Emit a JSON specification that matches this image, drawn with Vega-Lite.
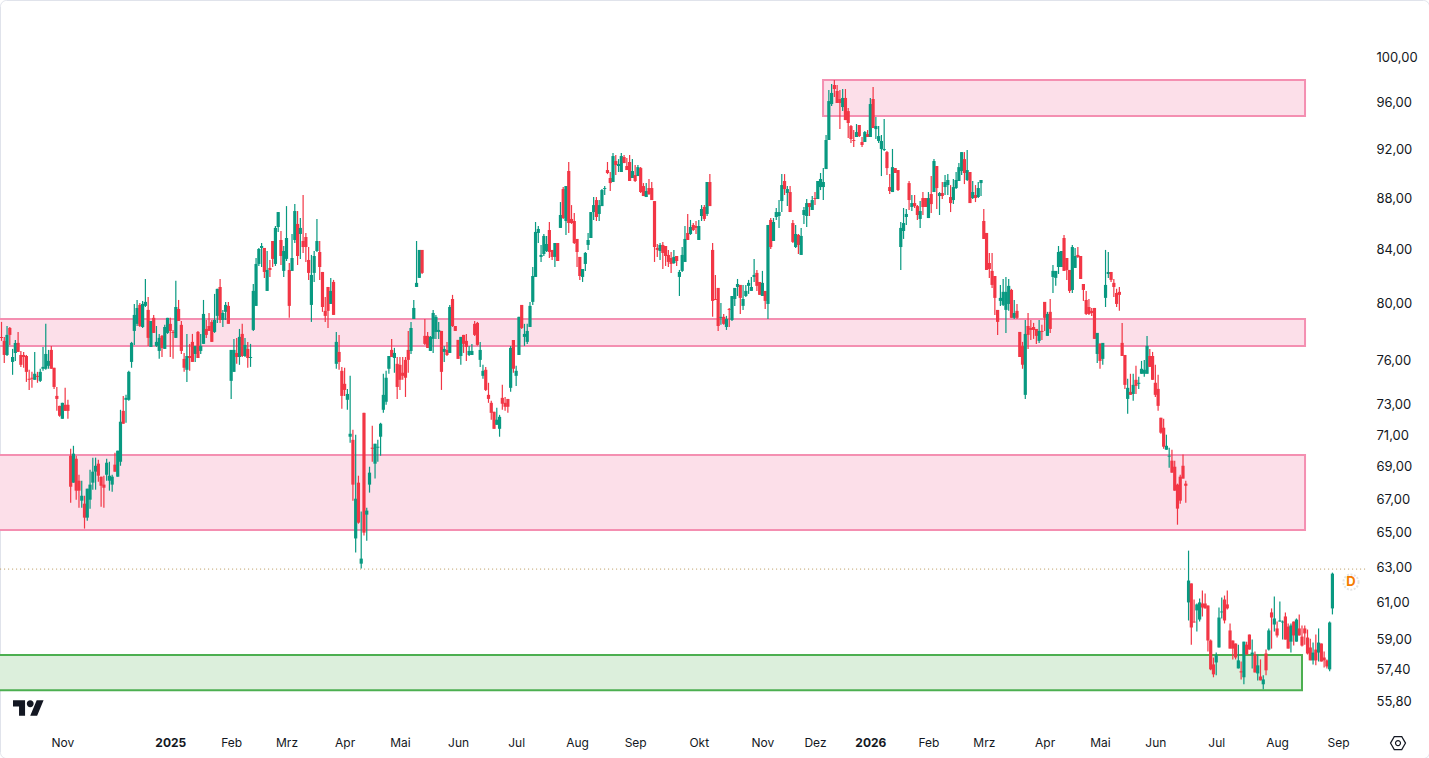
{
  "$schema": "https://vega.github.io/schema/vega-lite/v6.json",
  "width": 1429,
  "height": 758,
  "padding": 0,
  "autosize": {"type": "none"},
  "background": "white",
  "view": {"stroke": "#e0e3eb", "cornerRadius": 6, "fill": "white"},
  "resolve": {"axis": {"x": "independent", "y": "independent"}},
  "datasets": {
    "zones": [
      {"start": 296.9, "end": 471.1, "top": 97.94, "bottom": 94.8, "kind": "supply"},
      {"start": -3, "end": 471.1, "top": 78.87, "bottom": 76.97, "kind": "supply"},
      {"start": -3, "end": 471.1, "top": 69.73, "bottom": 65.15, "kind": "supply"},
      {"start": -3, "end": 470, "top": 58.18, "bottom": 56.36, "kind": "demand"}
    ],
    "lastprice": [{"start": -0.5, "end": 492.8, "price": 62.89}],
    "marker": [{"bar": 487.7, "price": 62.15, "label": "D"}],
    "logo": [{"bar": 9.76, "price": 55.45}],
    "gear": [{"bar": 504.7, "price": 53.72}],
    "candles": [
{"bar":0,"o":77.61,"h":78.67,"l":77.33,"c":77.54},
{"bar":1,"o":77.33,"h":77.61,"l":75.8,"c":76.35},
{"bar":2,"o":76.35,"h":78.38,"l":76.28,"c":77.75},
{"bar":3,"o":78.24,"h":78.31,"l":77.05,"c":77.75},
{"bar":4,"o":75.87,"h":76.77,"l":74.99,"c":76.21},
{"bar":5,"o":76.49,"h":77.4,"l":75.94,"c":77.19},
{"bar":6,"o":77.19,"h":77.96,"l":76.56,"c":76.56},
{"bar":7,"o":76.35,"h":76.63,"l":75.53,"c":75.67},
{"bar":8,"o":76.35,"h":76.56,"l":75.47,"c":76.21},
{"bar":9,"o":76.28,"h":76.35,"l":74.51,"c":75.19},
{"bar":10,"o":74.72,"h":75.33,"l":73.97,"c":74.65},
{"bar":11,"o":74.79,"h":75.19,"l":74.11,"c":74.72},
{"bar":12,"o":74.65,"h":76.56,"l":74.65,"c":75.06},
{"bar":13,"o":74.92,"h":75.19,"l":74.45,"c":74.85},
{"bar":14,"o":74.58,"h":75.4,"l":74.51,"c":75.19},
{"bar":15,"o":75.4,"h":76.91,"l":75.26,"c":75.53},
{"bar":16,"o":75.4,"h":78.53,"l":75.33,"c":76.42},
{"bar":17,"o":75.6,"h":76.7,"l":75.4,"c":75.94},
{"bar":18,"o":76.7,"h":76.98,"l":75.4,"c":75.4},
{"bar":19,"o":75.47,"h":75.47,"l":74.04,"c":74.17},
{"bar":20,"o":73.57,"h":74.17,"l":72.58,"c":73.37},
{"bar":21,"o":72.91,"h":72.91,"l":72.19,"c":72.26},
{"bar":22,"o":72.06,"h":73.11,"l":72.06,"c":73.11},
{"bar":23,"o":72.98,"h":74.11,"l":72.58,"c":72.58},
{"bar":24,"o":72.98,"h":73.31,"l":72.06,"c":72.58},
{"bar":25,"o":69.69,"h":70.13,"l":66.79,"c":67.76},
{"bar":26,"o":68.01,"h":70.32,"l":68.01,"c":69.82},
{"bar":27,"o":69.5,"h":69.69,"l":66.97,"c":67.52},
{"bar":28,"o":68.13,"h":68.5,"l":66.49,"c":67.52},
{"bar":29,"o":66.91,"h":68.13,"l":66.49,"c":67.21},
{"bar":30,"o":66.73,"h":67.21,"l":65.24,"c":65.89},
{"bar":31,"o":65.89,"h":67.64,"l":65.71,"c":67.64},
{"bar":32,"o":66.97,"h":68.81,"l":66.43,"c":67.89},
{"bar":33,"o":68.01,"h":69.57,"l":67.58,"c":68.69},
{"bar":34,"o":68.69,"h":69.57,"l":67.58,"c":69.06},
{"bar":35,"o":69.19,"h":69.44,"l":68.07,"c":68.44},
{"bar":36,"o":68.38,"h":68.38,"l":66.55,"c":67.82},
{"bar":37,"o":67.89,"h":68.44,"l":66.49,"c":67.7},
{"bar":38,"o":68.5,"h":69.5,"l":68.13,"c":69.25},
{"bar":39,"o":68.13,"h":69.31,"l":67.52,"c":68.44},
{"bar":40,"o":67.89,"h":68.5,"l":67.46,"c":68.38},
{"bar":41,"o":69.13,"h":69.88,"l":68.69,"c":68.69},
{"bar":42,"o":68.38,"h":70.01,"l":68.38,"c":70.01},
{"bar":43,"o":69.31,"h":72.65,"l":69.06,"c":71.87},
{"bar":44,"o":72.58,"h":73.57,"l":71.74,"c":71.74},
{"bar":45,"o":73.31,"h":73.64,"l":71.8,"c":73.44},
{"bar":46,"o":73.31,"h":75.26,"l":73.24,"c":75.19},
{"bar":47,"o":75.87,"h":77.26,"l":75.47,"c":77.19},
{"bar":48,"o":78.03,"h":79.96,"l":77.05,"c":79.17},
{"bar":49,"o":78.53,"h":80.25,"l":78.38,"c":79.67},
{"bar":50,"o":79.89,"h":80.03,"l":78.31,"c":78.38},
{"bar":51,"o":78.31,"h":80.18,"l":78.24,"c":79.96},
{"bar":52,"o":79.82,"h":81.79,"l":79.74,"c":80.11},
{"bar":53,"o":79.53,"h":80.47,"l":76.98,"c":77.54},
{"bar":54,"o":76.91,"h":78.74,"l":76.91,"c":78.74},
{"bar":55,"o":78.96,"h":79.17,"l":77.89,"c":77.89},
{"bar":56,"o":76.98,"h":78.38,"l":76.91,"c":77.26},
{"bar":57,"o":76.63,"h":77.82,"l":76.08,"c":77.54},
{"bar":58,"o":77.68,"h":77.75,"l":76.21,"c":76.84},
{"bar":59,"o":76.77,"h":78.46,"l":76.77,"c":78.31},
{"bar":60,"o":77.89,"h":78.96,"l":77.82,"c":78.96},
{"bar":61,"o":78.53,"h":78.96,"l":76.21,"c":78.03},
{"bar":62,"o":77.96,"h":78.1,"l":76.08,"c":77.89},
{"bar":63,"o":77.54,"h":81.65,"l":77.54,"c":79.74},
{"bar":64,"o":79.6,"h":80.25,"l":78.74,"c":78.74},
{"bar":65,"o":78.46,"h":78.74,"l":76.42,"c":76.63},
{"bar":66,"o":76.08,"h":76.49,"l":75.19,"c":75.47},
{"bar":67,"o":75.33,"h":77.82,"l":74.51,"c":76.28},
{"bar":68,"o":76.28,"h":77.12,"l":75.26,"c":76.14},
{"bar":69,"o":77.26,"h":77.82,"l":75.87,"c":75.87},
{"bar":70,"o":76.42,"h":76.98,"l":75.87,"c":76.98},
{"bar":71,"o":77.96,"h":78.03,"l":76.14,"c":76.14},
{"bar":72,"o":76.63,"h":77.82,"l":76.42,"c":76.98},
{"bar":73,"o":77.12,"h":80.25,"l":77.12,"c":79.24},
{"bar":74,"o":78.17,"h":78.81,"l":77.54,"c":77.75},
{"bar":75,"o":78.38,"h":79.31,"l":78.03,"c":78.03},
{"bar":76,"o":78.67,"h":78.81,"l":77.26,"c":77.26},
{"bar":77,"o":77.96,"h":80.69,"l":77.89,"c":78.81},
{"bar":78,"o":79.1,"h":81.06,"l":78.6,"c":81.06},
{"bar":79,"o":81.2,"h":81.79,"l":78.6,"c":78.81},
{"bar":80,"o":78.81,"h":79.53,"l":78.31,"c":79.31},
{"bar":81,"o":79.39,"h":80.11,"l":78.81,"c":79.89},
{"bar":82,"o":79.82,"h":80.11,"l":78.53,"c":78.53},
{"bar":83,"o":74.58,"h":76.7,"l":73.37,"c":76.7},
{"bar":84,"o":75.19,"h":77.47,"l":75.19,"c":76.7},
{"bar":85,"o":76.49,"h":77.54,"l":75.74,"c":76.21},
{"bar":86,"o":76.21,"h":78.17,"l":75.67,"c":77.61},
{"bar":87,"o":77.82,"h":78.53,"l":76.21,"c":76.28},
{"bar":88,"o":76.28,"h":77.54,"l":76.21,"c":77.05},
{"bar":89,"o":76.77,"h":77.26,"l":75.47,"c":76.14},
{"bar":90,"o":76.14,"h":77.12,"l":75.53,"c":76.21},
{"bar":91,"o":78.1,"h":81.42,"l":78.03,"c":80.91},
{"bar":92,"o":79.82,"h":83.36,"l":79.82,"c":82.91},
{"bar":93,"o":82.91,"h":84.12,"l":82.76,"c":84.04},
{"bar":94,"o":84.12,"h":84.5,"l":82.68,"c":84.27},
{"bar":95,"o":84.12,"h":84.12,"l":81.87,"c":82.31},
{"bar":96,"o":80.91,"h":83.89,"l":80.91,"c":82.46},
{"bar":97,"o":82.61,"h":83.21,"l":81.94,"c":82.46},
{"bar":98,"o":84.65,"h":84.65,"l":82.68,"c":83.29},
{"bar":99,"o":82.91,"h":85.81,"l":82.76,"c":85.66},
{"bar":100,"o":85.73,"h":86.9,"l":85.35,"c":86.9},
{"bar":101,"o":84.73,"h":85.42,"l":82.83,"c":83.51},
{"bar":102,"o":82.39,"h":84.27,"l":81.94,"c":83.89},
{"bar":103,"o":83.29,"h":87.37,"l":83.13,"c":84.88},
{"bar":104,"o":82.46,"h":82.98,"l":78.96,"c":79.82},
{"bar":105,"o":82.39,"h":85.19,"l":82.39,"c":83.36},
{"bar":106,"o":84.73,"h":87.53,"l":84.5,"c":86.98},
{"bar":107,"o":85.97,"h":86.98,"l":82.83,"c":83.51},
{"bar":108,"o":85.19,"h":86.43,"l":83.29,"c":85.66},
{"bar":109,"o":84.65,"h":88.25,"l":83.74,"c":84.19},
{"bar":110,"o":84.96,"h":85.27,"l":83.06,"c":84.19},
{"bar":111,"o":83.21,"h":84.19,"l":81.72,"c":82.24},
{"bar":112,"o":79.89,"h":83.59,"l":78.67,"c":82.09},
{"bar":113,"o":82.24,"h":83.89,"l":81.57,"c":83.51},
{"bar":114,"o":83.89,"h":86.36,"l":83.81,"c":84.65},
{"bar":115,"o":83.81,"h":84.65,"l":81.72,"c":82.68},
{"bar":116,"o":82.31,"h":82.31,"l":79.39,"c":79.74},
{"bar":117,"o":79.46,"h":80.47,"l":78.67,"c":79.1},
{"bar":118,"o":81.2,"h":81.2,"l":78.24,"c":79.46},
{"bar":119,"o":79.96,"h":81.87,"l":79.96,"c":80.91},
{"bar":120,"o":81.57,"h":81.72,"l":79.17,"c":79.17},
{"bar":121,"o":75.74,"h":77.96,"l":75.4,"c":77.26},
{"bar":122,"o":76.56,"h":77.75,"l":75.33,"c":75.87},
{"bar":123,"o":75.26,"h":75.53,"l":72.72,"c":73.57},
{"bar":124,"o":74.38,"h":75.47,"l":73.57,"c":73.97},
{"bar":125,"o":73.31,"h":74.04,"l":72.65,"c":73.7},
{"bar":126,"o":70.9,"h":74.92,"l":70.51,"c":71.09},
{"bar":127,"o":70.7,"h":71.35,"l":66.91,"c":67.89},
{"bar":128,"o":64.66,"h":71.03,"l":63.84,"c":67.03},
{"bar":129,"o":68.01,"h":68.44,"l":65.53,"c":65.59},
{"bar":130,"o":63.2,"h":66.25,"l":62.92,"c":63.49},
{"bar":131,"o":72.45,"h":72.45,"l":64.83,"c":65},
{"bar":132,"o":66.07,"h":66.49,"l":64.53,"c":66.31},
{"bar":133,"o":67.89,"h":69.0,"l":67.4,"c":68.63},
{"bar":134,"o":70.2,"h":71.61,"l":69.31,"c":70.13},
{"bar":135,"o":69.19,"h":70.45,"l":68.26,"c":70.45},
{"bar":136,"o":70.2,"h":70.7,"l":69.31,"c":70.26},
{"bar":137,"o":70.9,"h":71.8,"l":69.69,"c":71.74},
{"bar":138,"o":72.65,"h":75.06,"l":72.45,"c":73.64},
{"bar":139,"o":73.18,"h":75.26,"l":72.98,"c":74.79},
{"bar":140,"o":75.4,"h":76.28,"l":75.06,"c":76.28},
{"bar":141,"o":76.7,"h":77.47,"l":76.21,"c":76.21},
{"bar":142,"o":76.14,"h":76.84,"l":75.13,"c":76.49},
{"bar":143,"o":75.74,"h":76.21,"l":73.37,"c":74.17},
{"bar":144,"o":75.67,"h":76.21,"l":73.97,"c":74.65},
{"bar":145,"o":75.13,"h":76.21,"l":74.65,"c":74.92},
{"bar":146,"o":76.01,"h":76.21,"l":73.5,"c":74.79},
{"bar":147,"o":76.7,"h":78.03,"l":75.13,"c":76.01},
{"bar":148,"o":76.63,"h":78.67,"l":76.42,"c":78.24},
{"bar":149,"o":78.88,"h":80.25,"l":78.88,"c":79.67},
{"bar":150,"o":81.2,"h":84.65,"l":81.2,"c":81.5},
{"bar":151,"o":81.87,"h":83.97,"l":81.87,"c":83.97},
{"bar":152,"o":83.97,"h":83.97,"l":82.16,"c":82.24},
{"bar":153,"o":77.68,"h":78.88,"l":77.05,"c":77.12},
{"bar":154,"o":77.68,"h":77.96,"l":76.84,"c":76.84},
{"bar":155,"o":76.63,"h":77.68,"l":76.63,"c":77.61},
{"bar":156,"o":77.47,"h":79.53,"l":76.49,"c":79.31},
{"bar":157,"o":77.96,"h":79.17,"l":77.47,"c":79.03},
{"bar":158,"o":77.96,"h":78.67,"l":77.47,"c":78.1},
{"bar":159,"o":78.03,"h":78.03,"l":73.97,"c":75.19},
{"bar":160,"o":76.56,"h":76.98,"l":75.87,"c":76.77},
{"bar":161,"o":76.7,"h":77.26,"l":76.28,"c":76.35},
{"bar":162,"o":76.49,"h":79.89,"l":76.49,"c":79.74},
{"bar":163,"o":80.32,"h":80.62,"l":78.31,"c":78.38},
{"bar":164,"o":78.38,"h":78.38,"l":78.03,"c":78.03},
{"bar":165,"o":77.4,"h":77.4,"l":76.08,"c":76.08},
{"bar":166,"o":76.28,"h":77.61,"l":75.67,"c":77.61},
{"bar":167,"o":77.75,"h":77.75,"l":76.49,"c":77.12},
{"bar":168,"o":77.33,"h":77.82,"l":75.94,"c":76.91},
{"bar":169,"o":76.35,"h":76.98,"l":76.28,"c":76.63},
{"bar":170,"o":76.35,"h":77.12,"l":76.35,"c":76.63},
{"bar":171,"o":78.53,"h":78.74,"l":77.68,"c":77.75},
{"bar":172,"o":78.6,"h":78.67,"l":77.0,"c":77.05},
{"bar":173,"o":76.01,"h":77.26,"l":75.53,"c":76.7},
{"bar":174,"o":74.92,"h":75.67,"l":74.72,"c":75.26},
{"bar":175,"o":75.33,"h":75.53,"l":73.9,"c":73.97},
{"bar":176,"o":73.64,"h":74.45,"l":73.11,"c":73.37},
{"bar":177,"o":73.11,"h":73.24,"l":72.0,"c":72.45},
{"bar":178,"o":72.52,"h":72.52,"l":71.41,"c":71.41},
{"bar":179,"o":71.67,"h":72.78,"l":71.67,"c":72.0},
{"bar":180,"o":71.41,"h":72.32,"l":70.9,"c":72.19},
{"bar":181,"o":73.44,"h":74.31,"l":72.65,"c":73.05},
{"bar":182,"o":73.11,"h":73.5,"l":72.58,"c":72.85},
{"bar":183,"o":73.37,"h":73.37,"l":72.45,"c":72.85},
{"bar":184,"o":74.11,"h":76.98,"l":73.84,"c":76.84},
{"bar":185,"o":77.4,"h":77.4,"l":75.13,"c":75.4},
{"bar":186,"o":74.92,"h":75.6,"l":74.24,"c":75.26},
{"bar":187,"o":76.35,"h":79.03,"l":76.35,"c":79.03},
{"bar":188,"o":79.89,"h":79.89,"l":78.17,"c":78.24},
{"bar":189,"o":77.61,"h":78.53,"l":76.98,"c":77.82},
{"bar":190,"o":77.26,"h":78.53,"l":77.12,"c":78.03},
{"bar":191,"o":78.31,"h":80.11,"l":78.31,"c":79.82},
{"bar":192,"o":80.11,"h":82.68,"l":79.89,"c":82.01},
{"bar":193,"o":81.94,"h":86.12,"l":81.94,"c":85.35},
{"bar":194,"o":85.27,"h":85.81,"l":84.5,"c":85.58},
{"bar":195,"o":83.44,"h":84.35,"l":83.06,"c":83.59},
{"bar":196,"o":83.66,"h":85.19,"l":83.51,"c":85.04},
{"bar":197,"o":83.89,"h":85.04,"l":83.81,"c":84.42},
{"bar":198,"o":85.5,"h":86.12,"l":83.36,"c":83.81},
{"bar":199,"o":83.97,"h":83.97,"l":83.21,"c":83.44},
{"bar":200,"o":83.44,"h":84.5,"l":82.68,"c":84.5},
{"bar":201,"o":84.5,"h":84.5,"l":83.13,"c":83.13},
{"bar":202,"o":85.66,"h":87.69,"l":85.66,"c":86.67},
{"bar":203,"o":88.73,"h":88.89,"l":86.36,"c":86.43},
{"bar":204,"o":86.2,"h":88.97,"l":85.12,"c":88.97},
{"bar":205,"o":90.19,"h":90.93,"l":85.27,"c":86.04},
{"bar":206,"o":86.36,"h":87.45,"l":85.97,"c":86.04},
{"bar":207,"o":86.2,"h":86.82,"l":84.42,"c":84.5},
{"bar":208,"o":84.81,"h":84.81,"l":82.68,"c":83.81},
{"bar":209,"o":83.44,"h":83.44,"l":81.72,"c":82.01},
{"bar":210,"o":81.94,"h":82.53,"l":81.57,"c":82.53},
{"bar":211,"o":82.91,"h":83.81,"l":82.39,"c":83.74},
{"bar":212,"o":84.35,"h":85.27,"l":83.97,"c":84.73},
{"bar":213,"o":84.88,"h":86.9,"l":84.88,"c":86.9},
{"bar":214,"o":86.9,"h":88.09,"l":86.28,"c":87.45},
{"bar":215,"o":87.85,"h":88.09,"l":86.2,"c":86.51},
{"bar":216,"o":86.75,"h":87.85,"l":86.2,"c":87.45},
{"bar":217,"o":87.37,"h":88.73,"l":87.37,"c":88.65},
{"bar":218,"o":88.73,"h":88.97,"l":88.25,"c":88.81},
{"bar":219,"o":90.27,"h":90.93,"l":89.94,"c":90.03},
{"bar":220,"o":89.62,"h":90.11,"l":88.57,"c":89.21},
{"bar":221,"o":89.3,"h":91.67,"l":89.3,"c":91.42},
{"bar":222,"o":91.01,"h":91.5,"l":89.86,"c":90.68},
{"bar":223,"o":90.6,"h":91.17,"l":90.11,"c":90.76},
{"bar":224,"o":90.11,"h":91.67,"l":90.11,"c":91.42},
{"bar":225,"o":91.34,"h":91.5,"l":90.84,"c":90.84},
{"bar":226,"o":90.6,"h":91.26,"l":90.27,"c":90.27},
{"bar":227,"o":90.93,"h":91.5,"l":89.38,"c":89.38},
{"bar":228,"o":89.62,"h":91.17,"l":89.62,"c":90.19},
{"bar":229,"o":89.86,"h":90.68,"l":89.3,"c":89.38},
{"bar":230,"o":89.78,"h":90.68,"l":89.78,"c":90.51},
{"bar":231,"o":90.43,"h":90.51,"l":88.41,"c":88.49},
{"bar":232,"o":88.97,"h":89.21,"l":88.17,"c":88.17},
{"bar":233,"o":88.09,"h":89.21,"l":88.09,"c":88.57},
{"bar":234,"o":88.81,"h":89.54,"l":88.25,"c":88.33},
{"bar":235,"o":88.81,"h":89.3,"l":87.85,"c":87.85},
{"bar":236,"o":87.77,"h":87.77,"l":83.06,"c":84.19},
{"bar":237,"o":84.12,"h":84.42,"l":83.44,"c":83.97},
{"bar":238,"o":83.89,"h":84.5,"l":83.21,"c":84.35},
{"bar":239,"o":84.35,"h":84.58,"l":82.53,"c":83.74},
{"bar":240,"o":84.27,"h":84.27,"l":82.76,"c":83.51},
{"bar":241,"o":83.59,"h":83.97,"l":82.68,"c":83.06},
{"bar":242,"o":83.36,"h":83.81,"l":82.24,"c":82.91},
{"bar":243,"o":82.98,"h":83.97,"l":82.91,"c":83.44},
{"bar":244,"o":83.51,"h":83.51,"l":82.76,"c":83.13},
{"bar":245,"o":81.94,"h":82.46,"l":80.54,"c":82.31},
{"bar":246,"o":82.39,"h":84.19,"l":82.31,"c":83.59},
{"bar":247,"o":83.06,"h":85.81,"l":83.06,"c":84.81},
{"bar":248,"o":85.27,"h":86.75,"l":84.73,"c":84.73},
{"bar":249,"o":85.19,"h":86.28,"l":85.12,"c":85.73},
{"bar":250,"o":85.89,"h":86.04,"l":85.42,"c":85.5},
{"bar":251,"o":85.81,"h":86.2,"l":85.19,"c":85.66},
{"bar":252,"o":84.73,"h":86.28,"l":84.73,"c":85.81},
{"bar":253,"o":86.59,"h":87.45,"l":86.2,"c":87.14},
{"bar":254,"o":87.3,"h":87.45,"l":86.2,"c":86.36},
{"bar":255,"o":86.75,"h":89.3,"l":86.59,"c":89.3},
{"bar":256,"o":89.3,"h":89.94,"l":87.37,"c":87.37},
{"bar":257,"o":83.97,"h":84.5,"l":79.03,"c":80.18},
{"bar":258,"o":80.32,"h":82.09,"l":80.25,"c":80.25},
{"bar":259,"o":81.13,"h":81.13,"l":78.03,"c":78.38},
{"bar":260,"o":78.96,"h":80.03,"l":78.46,"c":79.03},
{"bar":261,"o":79.03,"h":79.24,"l":78.46,"c":78.53},
{"bar":262,"o":78.31,"h":79.1,"l":78.1,"c":78.88},
{"bar":263,"o":79.6,"h":79.67,"l":78.31,"c":79.53},
{"bar":264,"o":78.81,"h":80.54,"l":78.74,"c":80.54},
{"bar":265,"o":80.32,"h":81.13,"l":79.82,"c":81.13},
{"bar":266,"o":81.2,"h":81.79,"l":80.54,"c":81.42},
{"bar":267,"o":81.35,"h":81.35,"l":79.24,"c":80.4},
{"bar":268,"o":79.82,"h":81.35,"l":79.53,"c":80.32},
{"bar":269,"o":80.54,"h":81.35,"l":80.47,"c":80.91},
{"bar":270,"o":81.28,"h":81.72,"l":80.69,"c":81.5},
{"bar":271,"o":80.91,"h":81.94,"l":80.91,"c":81.2},
{"bar":272,"o":81.94,"h":83.29,"l":81.57,"c":82.09},
{"bar":273,"o":82.24,"h":82.46,"l":80.91,"c":81.28},
{"bar":274,"o":81.57,"h":81.57,"l":80.62,"c":80.62},
{"bar":275,"o":80.54,"h":82.39,"l":80.54,"c":81.5},
{"bar":276,"o":80.91,"h":80.91,"l":79.6,"c":80.18},
{"bar":277,"o":79.96,"h":85.89,"l":78.88,"c":85.89},
{"bar":278,"o":86.28,"h":86.43,"l":84.04,"c":84.19},
{"bar":279,"o":84.65,"h":86.43,"l":84.65,"c":86.12},
{"bar":280,"o":86.51,"h":87.22,"l":86.28,"c":86.9},
{"bar":281,"o":86.59,"h":87.85,"l":85.66,"c":86.9},
{"bar":282,"o":87.77,"h":89.94,"l":86.9,"c":89.05},
{"bar":283,"o":89.38,"h":89.94,"l":88.25,"c":88.73},
{"bar":284,"o":88.41,"h":88.97,"l":87.37,"c":88.73},
{"bar":285,"o":88.49,"h":88.97,"l":86.9,"c":86.9},
{"bar":286,"o":86.04,"h":86.28,"l":84.5,"c":84.58},
{"bar":287,"o":84.19,"h":85.89,"l":84.12,"c":85.19},
{"bar":288,"o":85.12,"h":85.19,"l":83.66,"c":84.35},
{"bar":289,"o":83.59,"h":85.66,"l":83.59,"c":85.04},
{"bar":290,"o":86.67,"h":87.3,"l":85.97,"c":87.06},
{"bar":291,"o":86.59,"h":87.93,"l":85.73,"c":87.61},
{"bar":292,"o":87.61,"h":87.61,"l":86.59,"c":87.3},
{"bar":293,"o":87.06,"h":88.17,"l":87.06,"c":87.85},
{"bar":294,"o":88.01,"h":88.49,"l":87.45,"c":87.93},
{"bar":295,"o":87.93,"h":89.38,"l":87.93,"c":89.38},
{"bar":296,"o":88.89,"h":90.03,"l":88.65,"c":89.54},
{"bar":297,"o":88.89,"h":90.43,"l":87.85,"c":89.3},
{"bar":298,"o":90.35,"h":93.18,"l":90.35,"c":92.76},
{"bar":299,"o":92.76,"h":97.06,"l":92.76,"c":96.09},
{"bar":300,"o":95.83,"h":97.59,"l":95.66,"c":96.8},
{"bar":301,"o":97.5,"h":97.94,"l":96.45,"c":97.14},
{"bar":302,"o":96.97,"h":97.5,"l":95.92,"c":95.92},
{"bar":303,"o":96.27,"h":97.06,"l":93.68,"c":95.92},
{"bar":304,"o":95.57,"h":97.14,"l":95.22,"c":96.36},
{"bar":305,"o":96.36,"h":97.14,"l":94.45,"c":94.45},
{"bar":306,"o":95.22,"h":95.48,"l":92.93,"c":94.2},
{"bar":307,"o":93.94,"h":94.03,"l":92.51,"c":92.84},
{"bar":308,"o":92.76,"h":93.6,"l":92.17,"c":92.68},
{"bar":309,"o":93.01,"h":94.11,"l":93.01,"c":93.43},
{"bar":310,"o":94.03,"h":94.03,"l":93.01,"c":93.09},
{"bar":311,"o":92.59,"h":93.01,"l":92.17,"c":92.34},
{"bar":312,"o":92.59,"h":93.52,"l":92.59,"c":93.43},
{"bar":313,"o":93.26,"h":93.6,"l":93.01,"c":93.01},
{"bar":314,"o":93.01,"h":96.36,"l":93.01,"c":95.83},
{"bar":315,"o":96.27,"h":97.32,"l":93.77,"c":93.77},
{"bar":316,"o":93.68,"h":94.71,"l":92.84,"c":93.94},
{"bar":317,"o":92.68,"h":93.94,"l":92.51,"c":93.09},
{"bar":318,"o":92.01,"h":93.18,"l":89.78,"c":92.68},
{"bar":319,"o":91.92,"h":94.54,"l":91.84,"c":92.01},
{"bar":320,"o":91.75,"h":91.84,"l":89.86,"c":90.43},
{"bar":321,"o":88.89,"h":89.94,"l":88.33,"c":88.57},
{"bar":322,"o":88.49,"h":92.01,"l":88.49,"c":90.51},
{"bar":323,"o":90.43,"h":90.43,"l":90.03,"c":90.03},
{"bar":324,"o":90.27,"h":90.27,"l":88.57,"c":88.65},
{"bar":325,"o":84.19,"h":86.12,"l":82.46,"c":85.66},
{"bar":326,"o":85.42,"h":87.22,"l":84.81,"c":86.04},
{"bar":327,"o":86.51,"h":87.14,"l":85.89,"c":86.75},
{"bar":328,"o":89.21,"h":89.38,"l":87.06,"c":87.85},
{"bar":329,"o":87.3,"h":88.25,"l":86.98,"c":87.61},
{"bar":330,"o":87.61,"h":88.25,"l":87.22,"c":87.37},
{"bar":331,"o":87.37,"h":87.45,"l":86.28,"c":86.67},
{"bar":332,"o":86.36,"h":87.77,"l":85.66,"c":86.98},
{"bar":333,"o":88.01,"h":88.49,"l":86.67,"c":87.3},
{"bar":334,"o":88.01,"h":88.01,"l":87.3,"c":87.3},
{"bar":335,"o":86.43,"h":88.49,"l":86.43,"c":88.01},
{"bar":336,"o":88.33,"h":89.78,"l":86.82,"c":87.53},
{"bar":337,"o":88.49,"h":91.17,"l":88.49,"c":91.01},
{"bar":338,"o":90.6,"h":90.6,"l":87.14,"c":88.81},
{"bar":339,"o":88.17,"h":88.49,"l":86.67,"c":88.41},
{"bar":340,"o":88.41,"h":89.3,"l":87.93,"c":88.17},
{"bar":341,"o":88.89,"h":89.86,"l":88.25,"c":89.3},
{"bar":342,"o":89.05,"h":89.94,"l":88.25,"c":89.46},
{"bar":343,"o":88.09,"h":89.05,"l":86.9,"c":87.61},
{"bar":344,"o":87.85,"h":89.54,"l":87.53,"c":88.89},
{"bar":345,"o":88.81,"h":90.11,"l":88.73,"c":89.46},
{"bar":346,"o":89.38,"h":90.84,"l":89.38,"c":90.51},
{"bar":347,"o":90.19,"h":91.75,"l":89.86,"c":91.75},
{"bar":348,"o":91.17,"h":91.75,"l":89.13,"c":90.03},
{"bar":349,"o":89.46,"h":91.92,"l":89.38,"c":90.27},
{"bar":350,"o":90.11,"h":90.11,"l":87.61,"c":87.61},
{"bar":351,"o":88.01,"h":89.38,"l":87.93,"c":88.49},
{"bar":352,"o":88.25,"h":89.05,"l":87.69,"c":88.01},
{"bar":353,"o":88.09,"h":89.3,"l":88.01,"c":88.81},
{"bar":354,"o":89.21,"h":89.46,"l":88.17,"c":89.46},
{"bar":355,"o":86.2,"h":87.14,"l":84.81,"c":84.81},
{"bar":356,"o":85.27,"h":85.27,"l":82.46,"c":82.46},
{"bar":357,"o":82.98,"h":83.74,"l":81.87,"c":82.53},
{"bar":358,"o":82.39,"h":83.74,"l":81.13,"c":81.35},
{"bar":359,"o":82.01,"h":82.01,"l":79.17,"c":80.4},
{"bar":360,"o":79.53,"h":79.53,"l":77.75,"c":78.67},
{"bar":361,"o":80.18,"h":81.35,"l":79.82,"c":80.4},
{"bar":362,"o":79.89,"h":81.79,"l":79.82,"c":80.84},
{"bar":363,"o":79.53,"h":81.94,"l":77.89,"c":80.84},
{"bar":364,"o":79.96,"h":81.79,"l":79.46,"c":81.28},
{"bar":365,"o":80.98,"h":81.06,"l":78.96,"c":78.96},
{"bar":366,"o":78.96,"h":80.25,"l":78.88,"c":79.31},
{"bar":367,"o":79.46,"h":79.96,"l":78.88,"c":78.96},
{"bar":368,"o":77.96,"h":77.96,"l":76.21,"c":76.21},
{"bar":369,"o":76.98,"h":77.26,"l":75.4,"c":75.67},
{"bar":370,"o":73.64,"h":78.81,"l":73.37,"c":77.82},
{"bar":371,"o":78.38,"h":79.31,"l":76.77,"c":77.75},
{"bar":372,"o":78.24,"h":78.81,"l":77.4,"c":78.1},
{"bar":373,"o":78.31,"h":78.6,"l":77.47,"c":78.1},
{"bar":374,"o":78.17,"h":78.17,"l":77.12,"c":77.68},
{"bar":375,"o":77.33,"h":78.81,"l":77.19,"c":78.03},
{"bar":376,"o":78.03,"h":78.46,"l":77.4,"c":77.96},
{"bar":377,"o":80.11,"h":80.11,"l":78.03,"c":78.96},
{"bar":378,"o":77.68,"h":79.39,"l":77.68,"c":79.24},
{"bar":379,"o":79.39,"h":80.32,"l":77.89,"c":78.17},
{"bar":380,"o":81.94,"h":82.83,"l":80.76,"c":82.39},
{"bar":381,"o":81.87,"h":82.39,"l":81.28,"c":82.39},
{"bar":382,"o":82.68,"h":84.27,"l":82.16,"c":83.81},
{"bar":383,"o":82.68,"h":83.89,"l":82.68,"c":83.89},
{"bar":384,"o":84.88,"h":85.12,"l":82.39,"c":82.39},
{"bar":385,"o":83.36,"h":83.36,"l":81.72,"c":82.46},
{"bar":386,"o":82.46,"h":82.46,"l":80.76,"c":80.91},
{"bar":387,"o":80.98,"h":84.35,"l":80.76,"c":84.19},
{"bar":388,"o":82.61,"h":84.12,"l":82.61,"c":83.51},
{"bar":389,"o":83.59,"h":84.19,"l":83.36,"c":83.44},
{"bar":390,"o":83.51,"h":83.51,"l":81.79,"c":81.79},
{"bar":391,"o":81.42,"h":81.42,"l":80.18,"c":80.98},
{"bar":392,"o":80.25,"h":80.91,"l":79.17,"c":79.24},
{"bar":393,"o":79.74,"h":80.32,"l":79.17,"c":79.24},
{"bar":394,"o":79.46,"h":79.67,"l":79.1,"c":79.31},
{"bar":395,"o":79.67,"h":79.67,"l":77.47,"c":77.47},
{"bar":396,"o":76.42,"h":77.89,"l":75.8,"c":77.89},
{"bar":397,"o":77.12,"h":77.19,"l":75.4,"c":75.94},
{"bar":398,"o":76.08,"h":77.19,"l":75.67,"c":77.19},
{"bar":399,"o":80.4,"h":83.97,"l":79.74,"c":81.35},
{"bar":400,"o":82.16,"h":83.81,"l":81.87,"c":82.31},
{"bar":401,"o":82.31,"h":82.31,"l":81.57,"c":81.72},
{"bar":402,"o":81.5,"h":81.79,"l":80.47,"c":81.2},
{"bar":403,"o":80.76,"h":81.06,"l":79.74,"c":79.96},
{"bar":404,"o":80.84,"h":81.2,"l":79.46,"c":80.62},
{"bar":405,"o":77.19,"h":78.6,"l":76.28,"c":76.28},
{"bar":406,"o":76.35,"h":76.35,"l":74.04,"c":74.31},
{"bar":407,"o":73.37,"h":74.72,"l":72.39,"c":74.11},
{"bar":408,"o":73.84,"h":75.06,"l":73.64,"c":73.64},
{"bar":409,"o":73.7,"h":75.06,"l":73.24,"c":74.31},
{"bar":410,"o":74.65,"h":75.6,"l":73.7,"c":74.24},
{"bar":411,"o":74.38,"h":74.85,"l":74.04,"c":74.45},
{"bar":412,"o":75.06,"h":75.94,"l":75.06,"c":75.4},
{"bar":413,"o":75.06,"h":76.01,"l":74.85,"c":75.33},
{"bar":414,"o":75.06,"h":77.68,"l":75.06,"c":76.98},
{"bar":415,"o":76.28,"h":76.77,"l":75.53,"c":75.53},
{"bar":416,"o":76.28,"h":76.56,"l":74.65,"c":74.65},
{"bar":417,"o":74.45,"h":75.67,"l":73.5,"c":73.64},
{"bar":418,"o":74.04,"h":74.99,"l":72.58,"c":72.91},
{"bar":419,"o":72.13,"h":72.13,"l":71.09,"c":71.16},
{"bar":420,"o":71.48,"h":72.06,"l":70.13,"c":70.26},
{"bar":421,"o":70.07,"h":71.03,"l":70.07,"c":70.32},
{"bar":422,"o":69.63,"h":70.2,"l":68.94,"c":69.69},
{"bar":423,"o":69.38,"h":70.07,"l":68.63,"c":68.63},
{"bar":424,"o":69.0,"h":69.38,"l":67.52,"c":67.52},
{"bar":425,"o":67.89,"h":67.95,"l":65.47,"c":66.43},
{"bar":426,"o":68.38,"h":68.5,"l":66.73,"c":66.91},
{"bar":427,"o":69.06,"h":69.76,"l":68.26,"c":68.26},
{"bar":428,"o":67.95,"h":68.13,"l":66.79,"c":67.82},
{"bar":429,"o":61.02,"h":63.95,"l":60.03,"c":62.24},
{"bar":430,"o":62.08,"h":62.08,"l":58.73,"c":59.65},
{"bar":431,"o":59.97,"h":61.18,"l":59.92,"c":59.92},
{"bar":432,"o":60.58,"h":60.96,"l":59.43,"c":60.91},
{"bar":433,"o":60.08,"h":61.24,"l":59.97,"c":61.02},
{"bar":434,"o":60.96,"h":61.68,"l":60.25,"c":60.74},
{"bar":435,"o":60.96,"h":61.51,"l":60.69,"c":60.69},
{"bar":436,"o":60.85,"h":60.85,"l":58.37,"c":58.95},
{"bar":437,"o":58.95,"h":59.0,"l":57.38,"c":57.43},
{"bar":438,"o":57.69,"h":58.05,"l":57.02,"c":57.17},
{"bar":439,"o":57.79,"h":58.31,"l":57.12,"c":58.16},
{"bar":440,"o":58.58,"h":60.74,"l":58.58,"c":60.19},
{"bar":441,"o":60.47,"h":61.29,"l":60.14,"c":60.52},
{"bar":442,"o":61.18,"h":61.4,"l":59.87,"c":60.03},
{"bar":443,"o":60.91,"h":61.68,"l":60.63,"c":60.69},
{"bar":444,"o":59.49,"h":59.87,"l":58.52,"c":58.52},
{"bar":445,"o":58.95,"h":58.95,"l":57.95,"c":58.52},
{"bar":446,"o":58.79,"h":58.79,"l":57.95,"c":58.05},
{"bar":447,"o":57.48,"h":58.73,"l":57.48,"c":57.9},
{"bar":448,"o":57.33,"h":57.84,"l":56.91,"c":57.27},
{"bar":449,"o":57.02,"h":58.89,"l":56.66,"c":58.89},
{"bar":450,"o":58.73,"h":58.89,"l":58.21,"c":58.21},
{"bar":451,"o":59.27,"h":59.27,"l":58.47,"c":58.47},
{"bar":452,"o":58.21,"h":59.0,"l":57.48,"c":58.31},
{"bar":453,"o":58.21,"h":58.37,"l":57.27,"c":57.27},
{"bar":454,"o":57.22,"h":58.21,"l":56.86,"c":57.64},
{"bar":455,"o":57.06,"h":57.95,"l":56.86,"c":56.86},
{"bar":456,"o":56.66,"h":57.12,"l":56.4,"c":56.91},
{"bar":457,"o":58.26,"h":58.47,"l":57.12,"c":57.38},
{"bar":458,"o":58.47,"h":59.6,"l":58.42,"c":59.49},
{"bar":459,"o":60.47,"h":60.69,"l":58.52,"c":60.19},
{"bar":460,"o":59.81,"h":61.35,"l":59.43,"c":60.14},
{"bar":461,"o":59.6,"h":59.97,"l":59.11,"c":59.22},
{"bar":462,"o":59.97,"h":61.07,"l":59.97,"c":60.03},
{"bar":463,"o":59.92,"h":60.03,"l":59.0,"c":59.97},
{"bar":464,"o":60.25,"h":60.47,"l":59.0,"c":59.0},
{"bar":465,"o":59.7,"h":59.87,"l":58.52,"c":58.52},
{"bar":466,"o":58.89,"h":59.87,"l":58.31,"c":59.76},
{"bar":467,"o":59.97,"h":59.97,"l":58.68,"c":59.22},
{"bar":468,"o":58.89,"h":60.14,"l":58.89,"c":60.08},
{"bar":469,"o":59.6,"h":60.36,"l":59.22,"c":59.22},
{"bar":470,"o":59.16,"h":59.76,"l":58.63,"c":58.68},
{"bar":471,"o":59.6,"h":59.76,"l":58.73,"c":59.33},
{"bar":472,"o":59.11,"h":59.54,"l":58.21,"c":58.26},
{"bar":473,"o":58.58,"h":59.05,"l":57.9,"c":57.9},
{"bar":474,"o":57.9,"h":58.84,"l":57.69,"c":58.31},
{"bar":475,"o":58.47,"h":59.27,"l":57.64,"c":57.9},
{"bar":476,"o":58.31,"h":59.6,"l":57.84,"c":58.84},
{"bar":477,"o":58.79,"h":58.79,"l":57.84,"c":57.84},
{"bar":478,"o":58.05,"h":58.37,"l":57.53,"c":57.9},
{"bar":479,"o":57.9,"h":57.95,"l":57.48,"c":57.58},
{"bar":480,"o":57.43,"h":59.97,"l":57.33,"c":59.92},
{"bar":481,"o":60.69,"h":62.69,"l":60.36,"c":62.63}
    ]
  },
  "layer": [
    {
      "data": {"name": "zones"},
      "mark": {"type": "rect", "strokeWidth": 2, "clip": true},
      "encoding": {
        "x": {"field": "start", "type": "quantitative", "scale": {"domain": [-3, 515.9], "range": [-6.8, 1429], "padding": 0, "nice": false, "zero": false}, "axis": null},
        "x2": {"field": "end"},
        "y": {"field": "top", "type": "quantitative", "scale": {"type": "log", "domain": [53, 105.3], "padding": 0, "nice": false}, "axis": null},
        "y2": {"field": "bottom"},
        "fill": {"field": "kind", "type": "nominal", "scale": {"domain": ["supply", "demand"], "range": ["#fcdfe9", "#dcefdc"]}, "legend": null},
        "stroke": {"field": "kind", "type": "nominal", "scale": {"domain": ["supply", "demand"], "range": ["#f48fb1", "#4caf50"]}, "legend": null}
      }
    },
    {
      "data": {"name": "lastprice"},
      "mark": {"type": "rule", "strokeDash": [1, 3], "strokeWidth": 1, "color": "#b8975a"},
      "encoding": {
        "x": {"field": "start", "type": "quantitative", "scale": {"domain": [-3, 515.9], "range": [-6.8, 1429], "padding": 0, "nice": false, "zero": false}, "axis": null},
        "x2": {"field": "end"},
        "y": {"field": "price", "type": "quantitative", "scale": {"type": "log", "domain": [53, 105.3], "padding": 0, "nice": false}, "axis": null}
      }
    },
    {
      "data": {"name": "candles"},
      "mark": {"type": "rule", "strokeWidth": 1.2},
      "encoding": {
        "x": {
          "field": "bar", "type": "quantitative",
          "scale": {"domain": [-3, 515.9], "range": [-6.8, 1429], "padding": 0, "nice": false, "zero": false},
          "axis": {
            "orient": "bottom", "offset": -28, "title": null, "grid": false, "domain": false, "ticks": false,
            "values": [22, 61, 83, 103, 124, 144, 165, 186, 208, 229, 252, 275, 294, 314, 335, 355, 377, 397, 417, 439, 461, 483],
            "labelExpr": "{'22':'Nov','61':'2025','83':'Feb','103':'Mrz','124':'Apr','144':'Mai','165':'Jun','186':'Jul','208':'Aug','229':'Sep','252':'Okt','275':'Nov','294':'Dez','314':'2026','335':'Feb','355':'Mrz','377':'Apr','397':'Mai','417':'Jun','439':'Jul','461':'Aug','483':'Sep'}[datum.value]",
            "labelFont": "Inter", "labelFontSize": 12, "labelColor": "#131722", "labelPadding": 7, "labelOverlap": false, "labelFlush": false,
            "labelFontWeight": {"condition": {"test": "datum.value == 61 || datum.value == 314", "value": "bold"}, "value": "normal"}
          }
        },
        "y": {
          "field": "l", "type": "quantitative",
          "scale": {"type": "log", "domain": [53, 105.3], "padding": 0, "nice": false},
          "axis": {
            "orient": "right", "offset": -64, "title": null, "grid": false, "domain": false, "ticks": false,
            "values": [100, 96, 92, 88, 84, 80, 76, 73, 71, 69, 67, 65, 63, 61, 59, 57.4, 55.8],
            "labelExpr": "replace(format(datum.value, '.2f'), '.', ',')",
            "labelFont": "Inter", "labelFontSize": 13, "labelColor": "#131722", "labelPadding": 11, "labelOverlap": false, "labelFlush": false
          }
        },
        "y2": {"field": "h"},
        "color": {"condition": {"test": "datum.c >= datum.o", "value": "#089981"}, "value": "#f23645"}
      }
    },
    {
      "data": {"name": "candles"},
      "mark": {"type": "bar", "size": 3.2},
      "encoding": {
        "x": {"field": "bar", "type": "quantitative", "scale": {"domain": [-3, 515.9], "range": [-6.8, 1429], "padding": 0, "nice": false, "zero": false}, "axis": null},
        "y": {"field": "o", "type": "quantitative", "scale": {"type": "log", "domain": [53, 105.3], "padding": 0, "nice": false}, "axis": null},
        "y2": {"field": "c"},
        "color": {"condition": {"test": "datum.c >= datum.o", "value": "#089981"}, "value": "#f23645"}
      }
    },
    {
      "data": {"name": "marker"},
      "mark": {"type": "point", "shape": "circle", "size": 230, "filled": true, "fill": "#ffffff", "stroke": "#e4e4e4", "strokeDash": [2, 1.5], "strokeWidth": 2, "opacity": 1},
      "encoding": {
        "x": {"field": "bar", "type": "quantitative", "scale": {"domain": [-3, 515.9], "range": [-6.8, 1429], "padding": 0, "nice": false, "zero": false}, "axis": null},
        "y": {"field": "price", "type": "quantitative", "scale": {"type": "log", "domain": [53, 105.3], "padding": 0, "nice": false}, "axis": null}
      }
    },
    {
      "data": {"name": "marker"},
      "mark": {"type": "text", "font": "Inter", "fontSize": 13, "fontWeight": "bold", "color": "#f57c00", "align": "center", "baseline": "middle"},
      "encoding": {
        "x": {"field": "bar", "type": "quantitative", "scale": {"domain": [-3, 515.9], "range": [-6.8, 1429], "padding": 0, "nice": false, "zero": false}, "axis": null},
        "y": {"field": "price", "type": "quantitative", "scale": {"type": "log", "domain": [53, 105.3], "padding": 0, "nice": false}, "axis": null},
        "text": {"field": "label"}
      }
    },
    {
      "data": {"name": "logo"},
      "mark": {
        "type": "point", "filled": true, "color": "#131722", "opacity": 1, "size": 961,
        "shape": "M-.222 .5 L-.611 .5 L-.611 -.111 L-1 -.111 L-1 -.5 L-.222 -.5 Z M.556 .5 L.111 .5 L.528 -.5 L.972 -.5 Z M-.111 -.278 A.222 .222 0 1 0 .333 -.278 A.222 .222 0 1 0 -.111 -.278 Z"
      },
      "encoding": {
        "x": {"field": "bar", "type": "quantitative", "scale": {"domain": [-3, 515.9], "range": [-6.8, 1429], "padding": 0, "nice": false, "zero": false}, "axis": null},
        "y": {"field": "price", "type": "quantitative", "scale": {"type": "log", "domain": [53, 105.3], "padding": 0, "nice": false}, "axis": null}
      }
    },
    {
      "data": {"name": "gear"},
      "mark": {
        "type": "point", "filled": false, "color": "#131722", "opacity": 1, "strokeWidth": 1.2, "size": 225,
        "shape": "M-1 0 L-.5 -.87 L.5 -.87 L1 0 L.5 .87 L-.5 .87 Z M-.33 0 A.33 .33 0 1 0 .33 0 A.33 .33 0 1 0 -.33 0 Z"
      },
      "encoding": {
        "x": {"field": "bar", "type": "quantitative", "scale": {"domain": [-3, 515.9], "range": [-6.8, 1429], "padding": 0, "nice": false, "zero": false}, "axis": null},
        "y": {"field": "price", "type": "quantitative", "scale": {"type": "log", "domain": [53, 105.3], "padding": 0, "nice": false}, "axis": null}
      }
    }
  ]
}
